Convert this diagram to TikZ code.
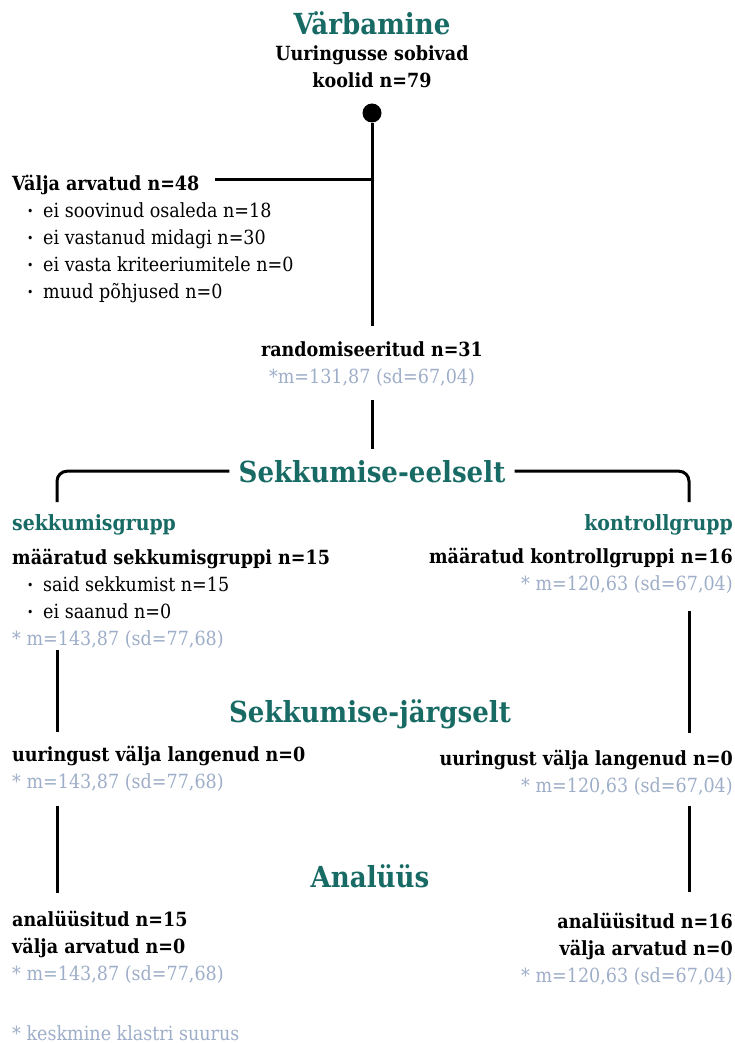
\documentclass[tikz,border=0pt]{standalone}
\usepackage{fontspec}
\setmainfont{DejaVu Serif}[FakeStretch=0.9]
\definecolor{flowteal}{RGB}{24,107,101}
\definecolor{meangray}{RGB}{158,174,200}
\newcommand{\blt}{\makebox[16pt][l]{\fontsize{12}{12}\selectfont\raisebox{1.5pt}{•}}}
\newcommand{\gry}[1]{\textcolor{meangray}{#1}}

\begin{document}
\begin{tikzpicture}[x=1pt,y=-1pt,
  phase node/.style={font=\fontsize{29}{35}\selectfont\bfseries,text=flowteal,inner sep=0pt},
  group node/.style={font=\fontsize{21}{26}\selectfont\bfseries,text=flowteal,inner sep=0pt},
  info node/.style={font=\fontsize{19.5}{27}\selectfont,inner sep=0pt},
  link/.style={line width=3pt}]

  \useasboundingbox (0,0) rectangle (735,1043);

  % phase titles
  \node[phase node,anchor=base] (p1) at (372,35)  {Värbamine};
  \node[phase node,anchor=base] (p2) at (372,482) {Sekkumise-eelselt};
  \node[phase node,anchor=base] (p3) at (370,722) {Sekkumise-järgselt};
  \node[phase node,anchor=base] (p4) at (370,887) {Analüüs};

  % enrolment (multi-line nodes sit on their last baseline)
  \node[info node,anchor=base,align=center] (elig) at (372,88)
    {\textbf{Uuringusse sobivad}\\\textbf{koolid n=79}};
  \node[circle,fill,inner sep=0pt,minimum size=19pt] (dot) at (372,113) {};
  \node[info node,anchor=base west] (excl) at (12,190) {\textbf{Välja arvatud n=48}};
  \node[info node,anchor=base west,align=left] (why) at (27,298)
    {\blt ei soovinud osaleda n=18\\\blt ei vastanud midagi n=30\\
     \blt ei vasta kriteeriumitele n=0\\\blt muud põhjused n=0};
  \node[info node,anchor=base,align=center] (rand) at (372,383)
    {\textbf{randomiseeritud n=31}\\\gry{*m=131,87 (sd=67,04)}};

  % allocation
  \node[group node,anchor=base west] (grpL) at (12,530)  {sekkumisgrupp};
  \node[group node,anchor=base east] (grpR) at (733,530) {kontrollgrupp};
  \node[info node,anchor=base west,align=left] (asgL) at (12,645)
    {\textbf{määratud sekkumisgruppi n=15}\\\hspace*{15pt}\blt said sekkumist n=15\\
     \hspace*{15pt}\blt ei saanud n=0\\\gry{* m=143,87 (sd=77,68)}};
  \node[info node,anchor=base east,align=right] (asgR) at (733,590)
    {\textbf{määratud kontrollgruppi n=16}\\\gry{* m=120,63 (sd=67,04)}};

  % follow-up
  \node[info node,anchor=base west,align=left] (dropL) at (12,788)
    {\textbf{uuringust välja langenud n=0}\\\gry{* m=143,87 (sd=77,68)}};
  \node[info node,anchor=base east,align=right] (dropR) at (733,792)
    {\textbf{uuringust välja langenud n=0}\\\gry{* m=120,63 (sd=67,04)}};

  % analysis
  \node[info node,anchor=base west,align=left] (anaL) at (12,980)
    {\textbf{analüüsitud n=15}\\\textbf{välja arvatud n=0}\\\gry{* m=143,87 (sd=77,68)}};
  \node[info node,anchor=base east,align=right] (anaR) at (733,982)
    {\textbf{analüüsitud n=16}\\\textbf{välja arvatud n=0}\\\gry{* m=120,63 (sd=67,04)}};

  \node[info node,anchor=base west] (note) at (12,1040) {\gry{* keskmine klastri suurus}};

  \coordinate (junc) at (372,180);
  \coordinate (brL) at (57,502);
  \coordinate (brR) at (689,502);

  \draw[link,shorten >=15pt] (dot) -- (dot |- rand.north);
  \draw[link,shorten >=15pt] (junc) -- (junc -| excl.east);
  \draw[link,shorten <=14pt,shorten >=11pt] (dot |- rand.south) -- (dot |- p2.north);
  \draw[link,rounded corners=10pt,shorten <=9pt] (p2.west) -| (brL);
  \draw[link,rounded corners=10pt,shorten <=9pt] (p2.east) -| (brR);
  \draw[link,shorten <=2pt,shorten >=13pt] (brL |- asgL.south) -- (brL |- dropL.north);
  \draw[link,shorten <=18pt,shorten >=16pt] (brR |- asgR.south) -- (brR |- dropR.north);
  \draw[link,shorten <=15pt,shorten >=17pt] (brL |- dropL.south) -- (brL |- anaL.north);
  \draw[link,shorten <=11pt,shorten >=20pt] (brR |- dropR.south) -- (brR |- anaR.north);

\end{tikzpicture}
\end{document}
